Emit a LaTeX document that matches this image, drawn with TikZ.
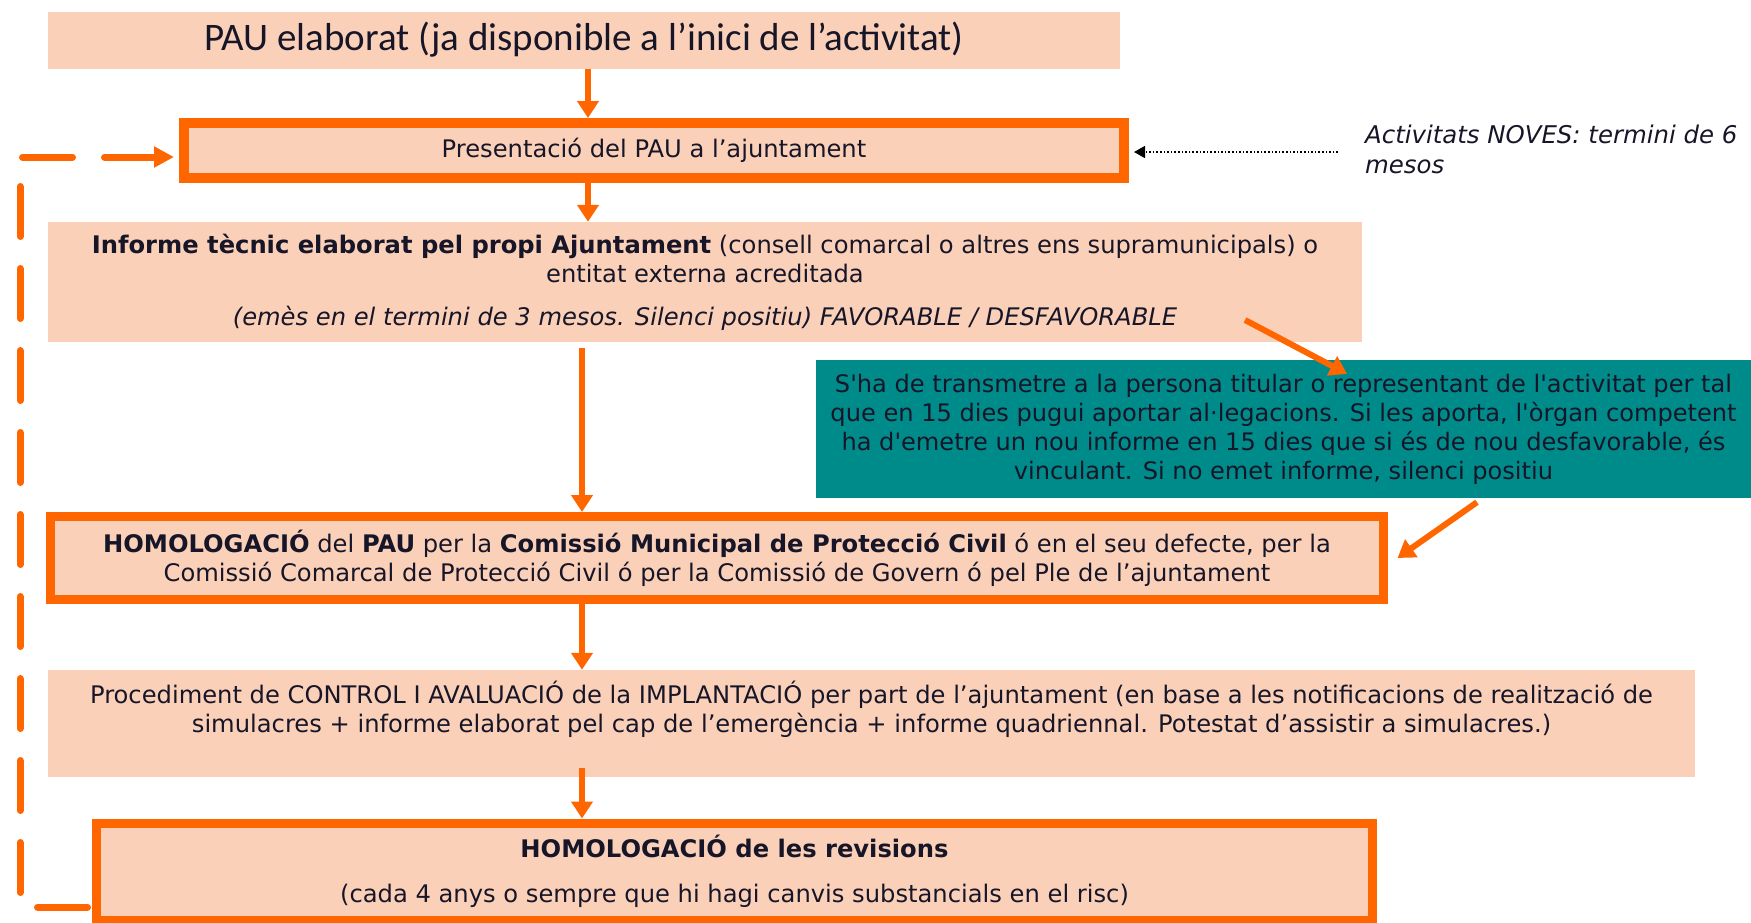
\documentclass[tikz,border=0pt]{standalone}
\usepackage{fontspec}
\setmainfont{DejaVu Sans}
\newfontfamily\calib{Carlito}
\newfontfamily\recta{DejaVu Sans}
\usetikzlibrary{arrows.meta}
\definecolor{taronja}{RGB}{255,102,0}
\definecolor{trama}{RGB}{251,208,184}
\definecolor{verd}{RGB}{0,139,139}
\definecolor{tinta}{RGB}{22,22,40}
\begin{document}
\begin{tikzpicture}[x=1pt,y=-1pt,
  every node/.style={text=tinta, font=\fontsize{24.2}{29}\selectfont, align=center, inner sep=0pt},
  caixa/.style={fill=trama},
  marc/.style={fill=trama, draw=taronja, line width=9pt},
  fletxa/.style={taronja, line width=6pt, -{Triangle[length=17pt,width=21pt]}},
  puntets/.style={black, line width=1.6pt, dotted, -{Triangle[length=11pt,width=12pt]}},
  tornada/.style={taronja, line width=7pt, line cap=round, dash pattern=on 50pt off 32pt, -{Triangle[length=20pt,width=20pt]}}]
\useasboundingbox (0,0) rectangle (1751,922);
\node[caixa, minimum width=1072pt, minimum height=57pt, font=\calib\fontsize{39}{42}\selectfont] (pau) at (584,40) {PAU elaborat (ja disponible a l’inici de l’activitat)};
\node[marc, line width=10pt, minimum width=940pt, minimum height=55pt] (pres) at (654,150.5) {Presentació del PAU a l’ajuntament};
\node[anchor=west, align=left, font=\itshape\fontsize{24.4}{30}\selectfont] (nota) at (1365,149) {Activitats NOVES: termini de 6\\mesos};
\node[caixa, minimum width=1314pt, minimum height=120pt] (inf) at (705,282) {\textbf{Informe tècnic elaborat pel propi Ajuntament} (consell comarcal o altres ens supramunicipals) o\\entitat externa acreditada\\[14pt]\textit{(emès en el termini de 3 mesos. Silenci positiu) FAVORABLE / DESFAVORABLE}};
\node[fill=verd, minimum width=935pt, minimum height=138pt, font=\recta\fontsize{24.1}{29}\selectfont] (trans) at (1283.5,429) {S'ha de transmetre a la persona titular o representant de l'activitat per tal\\que en 15 dies pugui aportar al·legacions. Si les aporta, l'òrgan competent\\ha d'emetre un nou informe en 15 dies que si és de nou desfavorable, és\\vinculant. Si no emet informe, silenci positiu};
\node[marc, minimum width=1333pt, minimum height=83pt] (homo) at (717,558) {\textbf{HOMOLOGACIÓ} del \textbf{PAU} per la \textbf{Comissió Municipal de Protecció Civil} ó en el seu defecte, per la\\Comissió Comarcal de Protecció Civil ó per la Comissió de Govern ó pel Ple de l’ajuntament};
\node[caixa, minimum width=1647pt, minimum height=107pt] (ctrl) at (871.5,723.5) {};
\node (ctrltxt) at (871.5,709.5) {Procediment de CONTROL I AVALUACIÓ de la IMPLANTACIÓ per part de l’ajuntament (en base a les notificacions de realització de\\simulacres + informe elaborat pel cap de l’emergència + informe quadriennal. Potestat d’assistir a simulacres.)};
\node[marc, minimum width=1276pt, minimum height=97pt] (rev) at (734.5,871.5) {\textbf{HOMOLOGACIÓ de les revisions}\\[16pt](cada 4 anys o sempre que hi hagi canvis substancials en el risc)};
\coordinate (nt) at (1338,152);
\coordinate (fav) at (1245,320);
% fletxes principals
\draw[fletxa] ([xshift=4pt]pau.south) -- ([xshift=4pt]pau.south |- pres.north);
\draw[fletxa] ([xshift=-66pt]pres.south) -- ([xshift=-66pt]pres.south |- inf.north);
\draw[fletxa, shorten <=6pt] ([xshift=-123pt]inf.south) -- ([xshift=-123pt]inf.south |- homo.north);
\draw[fletxa] ([xshift=-135pt]homo.south) -- ([xshift=-135pt]homo.south |- ctrl.north);
\draw[fletxa, shorten <=-9pt] ([xshift=-289.5pt]ctrl.south) -- ([xshift=-289.5pt]ctrl.south |- rev.north);
\draw[fletxa] (fav) -- ([xshift=63.5pt,yshift=-14pt]trans.north);
\draw[fletxa] ([xshift=193.5pt,yshift=-4pt]trans.south) -- ([xshift=9.5pt]homo.east);
\draw[puntets] (nt) -- ([xshift=5pt]nt -| pres.east);
% revisió: torna a la presentació
\draw[tornada, shorten >=5pt] ([xshift=-4.5pt,yshift=-35.5pt]rev.west) -- ++(-67.5,0) |- ([yshift=-6.5pt]pres.west);
\end{tikzpicture}
\end{document}
